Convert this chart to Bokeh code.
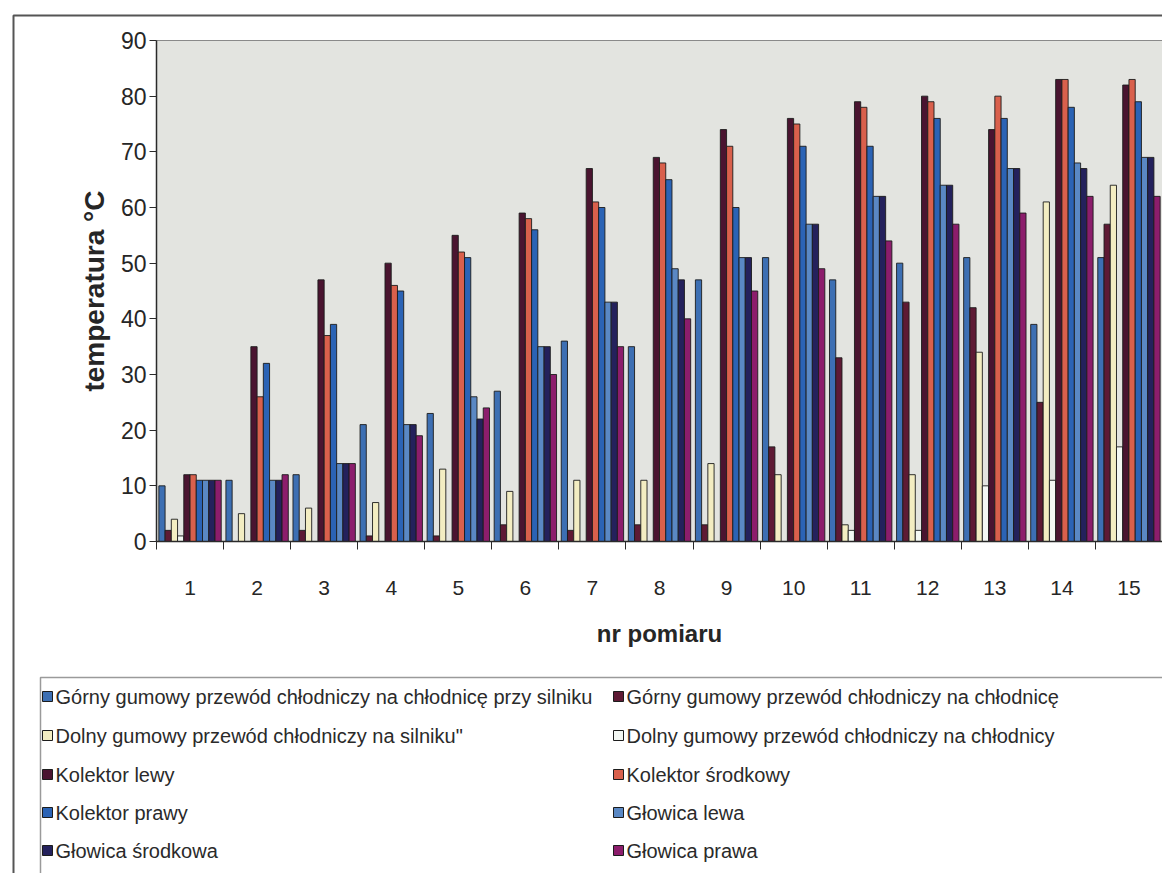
from bokeh.plotting import figure
from bokeh.models import Range1d, FixedTicker
from bokeh.embed import file_html
from bokeh.resources import INLINE
from bokeh.core.properties import value

# measurement numbers (x categories)
pomiary = ["1", "2", "3", "4", "5", "6", "7", "8", "9", "10", "11", "12", "13", "14", "15"]

# temperatures [°C] per measuring point
gorny_przy_silniku = [10, 11, 12, 21, 23, 27, 36, 35, 47, 51, 47, 50, 51, 39, 51]
gorny_na_chlodnice = [2, 0, 2, 1, 1, 3, 2, 3, 3, 17, 33, 43, 42, 25, 57]
dolny_na_silniku = [4, 5, 6, 7, 13, 9, 11, 11, 14, 12, 3, 12, 34, 61, 64]
dolny_na_chlodnicy = [1, 0, 0, 0, 0, 0, 0, 0, 0, 0, 2, 2, 10, 11, 17]
kolektor_lewy = [12, 35, 47, 50, 55, 59, 67, 69, 74, 76, 79, 80, 74, 83, 82]
kolektor_srodkowy = [12, 26, 37, 46, 52, 58, 61, 68, 71, 75, 78, 79, 80, 83, 83]
kolektor_prawy = [11, 32, 39, 45, 51, 56, 60, 65, 60, 71, 71, 76, 76, 78, 79]
glowica_lewa = [11, 11, 14, 21, 26, 35, 43, 49, 51, 57, 62, 64, 67, 68, 69]
glowica_srodkowa = [11, 11, 14, 21, 22, 35, 43, 47, 51, 57, 62, 64, 67, 67, 69]
glowica_prawa = [11, 12, 14, 19, 24, 30, 35, 40, 45, 49, 54, 57, 59, 62, 62]

nazwy = [
    "Górny gumowy przewód chłodniczy na chłodnicę przy silniku",
    "Górny gumowy przewód chłodniczy na chłodnicę",
    "Dolny gumowy przewód chłodniczy na silniku\"",
    "Dolny gumowy przewód chłodniczy na chłodnicy",
    "Kolektor lewy",
    "Kolektor środkowy",
    "Kolektor prawy",
    "Głowica lewa",
    "Głowica środkowa",
    "Głowica prawa",
]
serie = [gorny_przy_silniku, gorny_na_chlodnice, dolny_na_silniku, dolny_na_chlodnicy,
         kolektor_lewy, kolektor_srodkowy, kolektor_prawy, glowica_lewa,
         glowica_srodkowa, glowica_prawa]
kolory = ["#3d6fb3", "#5e1a34", "#f3edc2", "#f3f7f3", "#4a1430",
          "#d9604c", "#2b63b5", "#5a88c4", "#24215c", "#8c1d6c"]

FONT = "Liberation Sans"
W, H = 1162, 873
# plot-area placement on the page (pixels)
LEFT, RIGHT, TOP, BOTTOM = 156, 1162, 40, 541
X_MIN, X_MAX, Y_MIN, Y_MAX = 0.5, len(pomiary) + 0.5, 0, 90
kx = (X_MAX - X_MIN) / (RIGHT - LEFT)
ky = (Y_MAX - Y_MIN) / (BOTTOM - TOP)


def px_x(px):
    return X_MIN + (px - LEFT) * kx


def px_y(py):
    return Y_MIN + (BOTTOM - py) * ky


# the frame spans the whole page; the value axes sit at the plot-area edges
p = figure(width=W, height=H, x_range=Range1d(px_x(0), px_x(W)), y_range=Range1d(px_y(H), px_y(0)),
           output_backend="svg", toolbar_location=None, min_border=0)
p.background_fill_color = "white"
p.border_fill_color = "white"
p.outline_line_color = None
p.xgrid.visible = False
p.ygrid.visible = False

# outer frame of the chart sheet
p.quad(left=[px_x(13)], right=[px_x(1400)], top=[px_y(15)], bottom=[px_y(1300)],
       fill_color="white", line_color="#555555", line_width=2)

# plot area
p.quad(left=[X_MIN], right=[X_MAX], bottom=[Y_MIN], top=[Y_MAX],
       fill_color="#e3e4e0", line_color="#8a8a8a", line_width=1)

# clustered columns: 10 series side by side in each measurement slot
n = len(serie)
bar_w = 0.093
for i, (vals, col) in enumerate(zip(serie, kolory)):
    off = (i - (n - 1) / 2) * bar_w
    xs = [k + 1 + off for k in range(len(pomiary))]
    p.vbar(x=xs, top=vals, width=bar_w, bottom=0, fill_color=col,
           line_color="#1c1c1c", line_width=0.9)

# x axis: labels centred, ticks between the slots
xa = p.xaxis[0]
xa.fixed_location = Y_MIN
xa.bounds = (X_MIN, X_MAX)
xa.ticker = FixedTicker(ticks=list(range(1, len(pomiary) + 1)),
                        minor_ticks=[k + 0.5 for k in range(len(pomiary) + 1)])
xa.major_label_overrides = {k + 1: lab for k, lab in enumerate(pomiary)}
xa.major_tick_out = 0
xa.major_tick_in = 0
xa.minor_tick_out = 8
xa.minor_tick_in = 0
xa.major_label_standoff = 31
xa.axis_label = "nr pomiaru"
xa.axis_label_standoff = 22

ya = p.yaxis[0]
ya.fixed_location = X_MIN
ya.bounds = (Y_MIN, Y_MAX)
ya.ticker = FixedTicker(ticks=list(range(0, 91, 10)))
ya.major_tick_out = 7
ya.major_tick_in = 0
ya.major_label_standoff = 3
ya.axis_label = "temperatura °C"
ya.axis_label_standoff = 8

for ax in (xa, ya):
    ax.axis_line_color = "#2a2a2a"
    ax.axis_line_width = 1.5
    ax.major_tick_line_color = "#2a2a2a"
    ax.major_label_text_font = FONT
    ax.major_label_text_color = "#262626"
    ax.axis_label_text_font = FONT
    ax.axis_label_text_font_style = "bold"
    ax.axis_label_text_color = "#262626"
xa.minor_tick_line_color = "#2a2a2a"
ya.minor_tick_line_color = None
xa.major_label_text_font_size = "21px"
ya.major_label_text_font_size = "23px"
xa.axis_label_text_font_size = "24px"
ya.axis_label_text_font_size = "28px"

# legend box with two columns of entries
p.quad(left=[px_x(40)], right=[px_x(1400)], top=[px_y(677)], bottom=[px_y(1300)],
       fill_color="white", line_color="#9a9a9a", line_width=1.5)
row_y = [696, 735, 774, 812, 850]
col_x = [42, 613]
sw_x, sw_y, lab_x, lab_y = [], [], [], []
for i in range(len(nazwy)):
    r, c = divmod(i, 2)
    sw_x.append(px_x(col_x[c] + 5))
    sw_y.append(px_y(row_y[r]))
    lab_x.append(px_x(col_x[c] + 13))
    lab_y.append(px_y(row_y[r]))
p.rect(x=sw_x, y=sw_y, width=10 * kx, height=10 * ky, fill_color=kolory,
       line_color="#1c1c1c", line_width=1)
p.text(x=lab_x, y=lab_y, text=nazwy, text_baseline="middle", text_align="left",
       text_font=value(FONT), text_font_size="20px", text_color="#2a2a2a")

open("out.html", "w").write(file_html(p, INLINE))
